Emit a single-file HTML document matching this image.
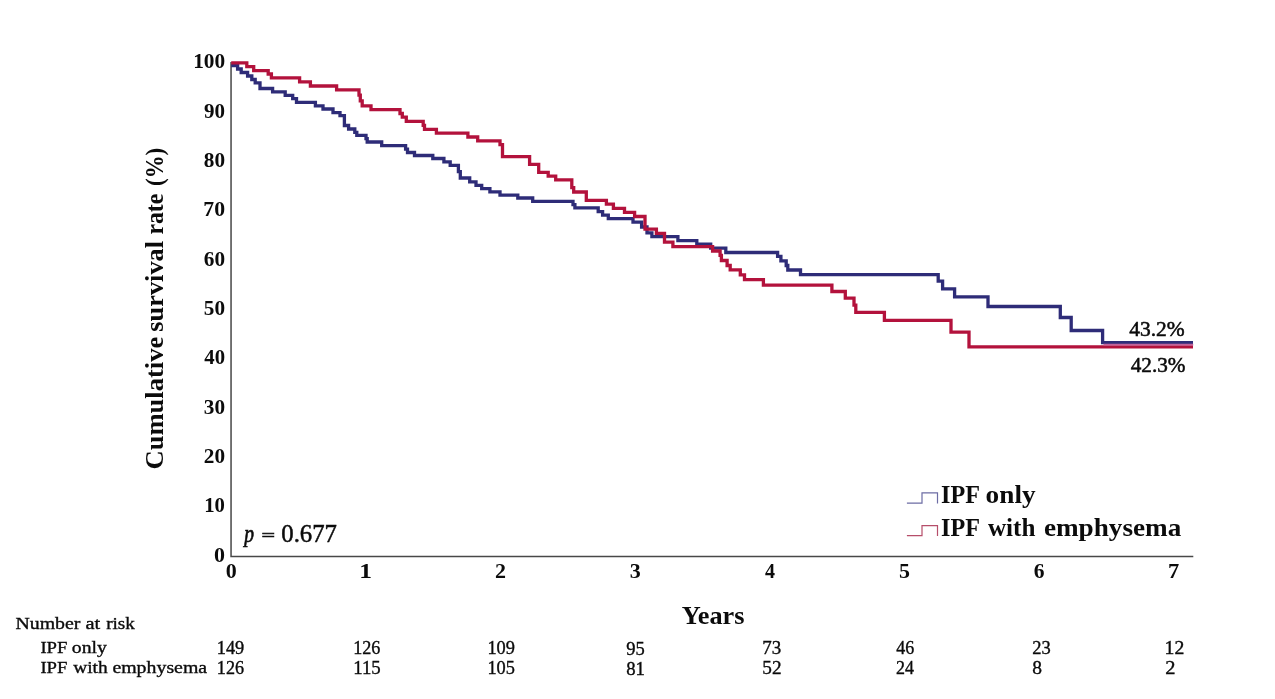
<!DOCTYPE html>
<html lang="en"><head><meta charset="utf-8"><title>Cumulative survival rate: IPF only vs IPF with emphysema</title>
<style>html,body{margin:0;padding:0;background:#fff;overflow:hidden}svg{display:block}text{font-family:"Liberation Serif","DejaVu Serif",serif;fill:#0b0b0b}.b{font-weight:bold}</style></head><body>
<svg width="1275" height="699" viewBox="0 0 1275 699">
<rect width="1275" height="699" fill="#fff"/>
<path d="M231.05 62V556.45H1193.3" fill="none" stroke="#484848" stroke-width="1.5"/>
<path d="M231.2 65.6H237.6V69.0H241.2V72.5H247.6V76.0H251.8V79.5H255.2V82.8H260.0V88.5H272.6V91.9H285.2V95.4H292.7V98.6H296.5V102.3H315.4V105.8H323V109.0H333.0V112.6H340.0V115.6H344.4V125.5H348.6V129.0H354.8V132.4H356.8V135.4H366V138.6H367.2V142H381.7V145.6H405.6V149.1H407.5V152.5H414.5V155.5H432.8V158.5H443.9V161.9H450.2V165.4H458.4V171.7H460.3V178H469.7V181.8H476V185.3H481.7V188.7H489.9V191.9H500V195.2H517.8V198H532.7V201.3H573V204.6H574.9V207.9H598.2V211.6H602.6V215.2H608.3V218.7H633V222.2H641.6V227.0H647.0V232.8H651.9V236.6H677.9V240.6H696.8V244.1H710.7V248.1H725.8V252.5H777.6V256.4H780.9V260.9H786.2V265.5H787.8V270H800.5V274.7H938.2V281.2H942.6V288.9H954.6V296.8H988V306.5H1060.3V317.5H1071.2V330.5H1102.6V342.6H1193" fill="none" stroke="#2e2c78" stroke-width="3.3" stroke-linejoin="miter"/>
<path d="M231.2 62.8H246.8V66.6H253.7V70.6H268.2V74.0H271.4V77.9H299.6V81.8H310.4V86.0H336.6V89.9H359.0V95.2H360.3V100.9H362.2V105.9H371V109.7H400V113.5H402.3V117.2H406.3V121.4H423.2V125.4H424.5V129.3H436.4V133.2H467.9V137.0H477.7V140.8H500V144.6H502.5V156.6H529.6V164.4H538.7V172.4H548.2V176.2H555.7V179.9H571.8V187.7H573.7V192.0H586.3V200.3H606.4V204.1H613.4V208.4H624.5V212.3H634.6V216.5H645.0V229.2H656.4V233.4H664.5V242.2H672.9V246.6H712.6V251.0H720.1V255.4H721.4V260.5H727.1V265.5H730.2V269.9H740.3V274.8H744.5V279.7H763.4V285.1H831.9V291.5H845.3V298.2H854V305.1H855.8V312.4H884.4V320.4H951V332.2H969V346.9H1193" fill="none" stroke="#b3123c" stroke-width="3.3" stroke-linejoin="miter"/>
<path d="M1103.5 344.65H1193.2" stroke="#c2629a" stroke-width="1.9" fill="none"/>
<path d="M906.9 503.2H922V492.9H937.5V503.4" fill="none" stroke="#6c6ca4" stroke-width="1.2"/>
<path d="M906.9 535.7H922V525.6H937.5V535.9" fill="none" stroke="#b64e6a" stroke-width="1.2"/>
<text font-size="21.8" class="b"><tspan x="214.05" y="561.8" textLength="11.00" lengthAdjust="spacingAndGlyphs">0</tspan></text>
<text font-size="21.8" class="b"><tspan x="204.20" y="512.45" textLength="20.75" lengthAdjust="spacingAndGlyphs">10</tspan></text>
<text font-size="21.8" class="b"><tspan x="203.75" y="463.1" textLength="21.25" lengthAdjust="spacingAndGlyphs">20</tspan></text>
<text font-size="21.8" class="b"><tspan x="203.75" y="413.75" textLength="21.25" lengthAdjust="spacingAndGlyphs">30</tspan></text>
<text font-size="21.8" class="b"><tspan x="204.25" y="364.4" textLength="20.75" lengthAdjust="spacingAndGlyphs">40</tspan></text>
<text font-size="21.8" class="b"><tspan x="203.75" y="315.05" textLength="21.25" lengthAdjust="spacingAndGlyphs">50</tspan></text>
<text font-size="21.8" class="b"><tspan x="203.75" y="265.7" textLength="21.25" lengthAdjust="spacingAndGlyphs">60</tspan></text>
<text font-size="21.8" class="b"><tspan x="203.25" y="216.35" textLength="21.75" lengthAdjust="spacingAndGlyphs">70</tspan></text>
<text font-size="21.8" class="b"><tspan x="203.75" y="167" textLength="21.25" lengthAdjust="spacingAndGlyphs">80</tspan></text>
<text font-size="21.8" class="b"><tspan x="204.00" y="117.65" textLength="21.00" lengthAdjust="spacingAndGlyphs">90</tspan></text>
<text font-size="21.8" class="b"><tspan x="193.15" y="68.3" textLength="32.00" lengthAdjust="spacingAndGlyphs">100</tspan></text>
<text font-size="21.6" class="b"><tspan x="225.75" y="578.2" textLength="11.00" lengthAdjust="spacingAndGlyphs">0</tspan></text>
<text font-size="21.6" class="b"><tspan x="359.17" y="578.2" textLength="12.75" lengthAdjust="spacingAndGlyphs">1</tspan></text>
<text font-size="21.6" class="b"><tspan x="495.09" y="578.2" textLength="11.00" lengthAdjust="spacingAndGlyphs">2</tspan></text>
<text font-size="21.6" class="b"><tspan x="629.76" y="578.2" textLength="11.00" lengthAdjust="spacingAndGlyphs">3</tspan></text>
<text font-size="21.6" class="b"><tspan x="764.93" y="578.2" textLength="10.00" lengthAdjust="spacingAndGlyphs">4</tspan></text>
<text font-size="21.6" class="b"><tspan x="899.10" y="578.2" textLength="11.00" lengthAdjust="spacingAndGlyphs">5</tspan></text>
<text font-size="21.6" class="b"><tspan x="1033.77" y="578.2" textLength="10.75" lengthAdjust="spacingAndGlyphs">6</tspan></text>
<text font-size="21.6" class="b"><tspan x="1167.94" y="578.2" textLength="11.25" lengthAdjust="spacingAndGlyphs">7</tspan></text>
<text transform="translate(162.8 470) rotate(-90)" font-size="25.5" class="b"><tspan x="0.55" y="0" textLength="132.75" lengthAdjust="spacingAndGlyphs">Cumulative</tspan> <tspan x="138.35" y="0" textLength="90.75" lengthAdjust="spacingAndGlyphs">survival</tspan> <tspan x="235.40" y="0" textLength="41.00" lengthAdjust="spacingAndGlyphs">rate</tspan> <tspan x="284.00" y="0" textLength="38.25" lengthAdjust="spacingAndGlyphs">(%)</tspan></text>
<text font-size="25.5" class="b"><tspan x="681.70" y="623.6" textLength="62.75" lengthAdjust="spacingAndGlyphs">Years</tspan></text>
<text font-size="26"><tspan x="244.30" y="542.2" textLength="9.75" lengthAdjust="spacingAndGlyphs" font-style="italic" stroke="#0b0b0b" stroke-width="0.7">p</tspan> <tspan x="261.45" y="540.9" textLength="13.50" lengthAdjust="spacingAndGlyphs" stroke="#0b0b0b" stroke-width="0.6" font-size="17">=</tspan> <tspan x="281.25" y="542.2" textLength="55.75" lengthAdjust="spacingAndGlyphs" stroke="#0b0b0b" stroke-width="0.5" font-size="25.8">0.677</tspan></text>
<text font-size="21.7"><tspan x="1129.20" y="336.2" textLength="55.50" lengthAdjust="spacingAndGlyphs" stroke="#0b0b0b" stroke-width="0.55">43.2%</tspan></text>
<text font-size="21.7"><tspan x="1130.70" y="371.7" textLength="54.75" lengthAdjust="spacingAndGlyphs" stroke="#0b0b0b" stroke-width="0.55">42.3%</tspan></text>
<text font-size="25.5" class="b"><tspan x="941.05" y="503.2" textLength="38.00" lengthAdjust="spacingAndGlyphs">IPF</tspan> <tspan x="985.60" y="503.2" textLength="50.00" lengthAdjust="spacingAndGlyphs">only</tspan></text>
<text font-size="25.5" class="b"><tspan x="941.05" y="535.7" textLength="38.00" lengthAdjust="spacingAndGlyphs">IPF</tspan> <tspan x="987.90" y="535.7" textLength="47.50" lengthAdjust="spacingAndGlyphs">with</tspan> <tspan x="1043.90" y="535.7" textLength="137.50" lengthAdjust="spacingAndGlyphs">emphysema</tspan></text>
<text font-size="17.3"><tspan x="15.45" y="629" textLength="65.00" lengthAdjust="spacingAndGlyphs" stroke="#0b0b0b" stroke-width="0.35">Number</tspan> <tspan x="85.50" y="629" textLength="14.75" lengthAdjust="spacingAndGlyphs" stroke="#0b0b0b" stroke-width="0.35">at</tspan> <tspan x="106.15" y="629" textLength="28.75" lengthAdjust="spacingAndGlyphs" stroke="#0b0b0b" stroke-width="0.35">risk</tspan></text>
<text font-size="17.3"><tspan x="40.40" y="653" textLength="27.00" lengthAdjust="spacingAndGlyphs" stroke="#0b0b0b" stroke-width="0.35">IPF</tspan> <tspan x="71.80" y="653" textLength="35.00" lengthAdjust="spacingAndGlyphs" stroke="#0b0b0b" stroke-width="0.35">only</tspan></text>
<text font-size="17.3"><tspan x="40.40" y="673" textLength="27.00" lengthAdjust="spacingAndGlyphs" stroke="#0b0b0b" stroke-width="0.35">IPF</tspan> <tspan x="73.20" y="673" textLength="34.50" lengthAdjust="spacingAndGlyphs" stroke="#0b0b0b" stroke-width="0.35">with</tspan> <tspan x="112.40" y="673" textLength="94.75" lengthAdjust="spacingAndGlyphs" stroke="#0b0b0b" stroke-width="0.35">emphysema</tspan></text>
<text font-size="17.9"><tspan x="216.80" y="653.5" textLength="27.50" lengthAdjust="spacingAndGlyphs" stroke="#0b0b0b" stroke-width="0.35">149</tspan></text>
<text font-size="17.9"><tspan x="216.80" y="673.5" textLength="27.25" lengthAdjust="spacingAndGlyphs" stroke="#0b0b0b" stroke-width="0.35">126</tspan></text>
<text font-size="17.9"><tspan x="353.20" y="653.5" textLength="27.25" lengthAdjust="spacingAndGlyphs" stroke="#0b0b0b" stroke-width="0.35">126</tspan></text>
<text font-size="17.9"><tspan x="353.20" y="673.5" textLength="27.50" lengthAdjust="spacingAndGlyphs" stroke="#0b0b0b" stroke-width="0.35">115</tspan></text>
<text font-size="17.9"><tspan x="487.40" y="653.5" textLength="27.50" lengthAdjust="spacingAndGlyphs" stroke="#0b0b0b" stroke-width="0.35">109</tspan></text>
<text font-size="17.9"><tspan x="487.40" y="673.5" textLength="27.50" lengthAdjust="spacingAndGlyphs" stroke="#0b0b0b" stroke-width="0.35">105</tspan></text>
<text font-size="17.9"><tspan x="626.20" y="654.5" textLength="18.50" lengthAdjust="spacingAndGlyphs" stroke="#0b0b0b" stroke-width="0.35">95</tspan></text>
<text font-size="17.9"><tspan x="626.20" y="674.5" textLength="18.75" lengthAdjust="spacingAndGlyphs" stroke="#0b0b0b" stroke-width="0.35">81</tspan></text>
<text font-size="17.9"><tspan x="762.30" y="653.5" textLength="19.00" lengthAdjust="spacingAndGlyphs" stroke="#0b0b0b" stroke-width="0.35">73</tspan></text>
<text font-size="17.9"><tspan x="762.30" y="673.5" textLength="19.25" lengthAdjust="spacingAndGlyphs" stroke="#0b0b0b" stroke-width="0.35">52</tspan></text>
<text font-size="17.9"><tspan x="896.35" y="653.5" textLength="18.00" lengthAdjust="spacingAndGlyphs" stroke="#0b0b0b" stroke-width="0.35">46</tspan></text>
<text font-size="17.9"><tspan x="896.10" y="673.5" textLength="18.00" lengthAdjust="spacingAndGlyphs" stroke="#0b0b0b" stroke-width="0.35">24</tspan></text>
<text font-size="17.9"><tspan x="1032.20" y="653.5" textLength="18.50" lengthAdjust="spacingAndGlyphs" stroke="#0b0b0b" stroke-width="0.35">23</tspan></text>
<text font-size="17.9"><tspan x="1032.20" y="673.5" textLength="9.75" lengthAdjust="spacingAndGlyphs" stroke="#0b0b0b" stroke-width="0.35">8</tspan></text>
<text font-size="17.9"><tspan x="1164.50" y="653.5" textLength="19.75" lengthAdjust="spacingAndGlyphs" stroke="#0b0b0b" stroke-width="0.35">12</tspan></text>
<text font-size="17.9"><tspan x="1165.25" y="673.5" textLength="10.25" lengthAdjust="spacingAndGlyphs" stroke="#0b0b0b" stroke-width="0.35">2</tspan></text>
</svg></body></html>
